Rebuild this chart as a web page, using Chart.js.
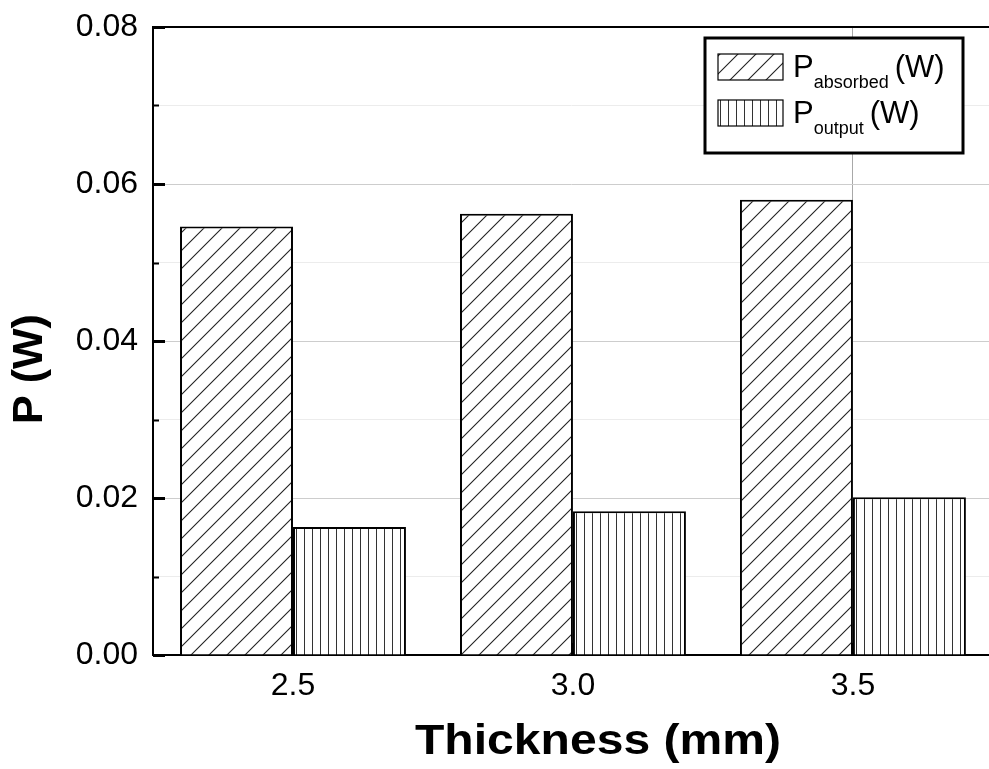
<!DOCTYPE html>
<html>
<head>
<meta charset="utf-8">
<script src="https://cdn.jsdelivr.net/npm/chart.js@4.4.1/dist/chart.umd.min.js"></script>
<style>
  html, body { margin: 0; padding: 0; background: #fff; }
  #wrap { width: 989px; height: 769px; }
</style>
</head>
<body>
<div id="wrap"><canvas id="c" width="989" height="769"></canvas></div>
<script>
// ---- data ----
const categories = [2.5, 3.0, 3.5];            // Thickness (mm)
const absorbed   = [0.0546, 0.0562, 0.0580];   // P_absorbed (W)
const output     = [0.0163, 0.0183, 0.0201];   // P_output (W)
const yMajorTicks = [0, 0.02, 0.04, 0.06, 0.08];
const yMinorTicks = [0.01, 0.03, 0.05, 0.07];
const xGridAt = [3.5];
const xTitle = 'Thickness (mm)';
const yTitle = 'P (W)';
const legendItems = [
  { main: 'P', sub: 'absorbed', unit: '(W)' },
  { main: 'P', sub: 'output', unit: '(W)' }
];

const FONT = '"Liberation Sans", Arial, Helvetica, sans-serif';

// ---- hatch patterns ----
function diagPattern() {
  const s = 18, cv = document.createElement('canvas');
  cv.width = s; cv.height = s;
  const g = cv.getContext('2d');
  g.fillStyle = '#fff'; g.fillRect(0, 0, s, s);
  g.strokeStyle = '#222'; g.lineWidth = 1.1;
  g.beginPath();
  g.moveTo(-2, s + 2); g.lineTo(s + 2, -2);
  g.moveTo(-2, 2); g.lineTo(2, -2);
  g.moveTo(s - 2, s + 2); g.lineTo(s + 2, s - 2);
  g.stroke();
  return g.createPattern(cv, 'repeat');
}
function vertPattern() {
  const w = 8, cv = document.createElement('canvas');
  cv.width = w; cv.height = 4;
  const g = cv.getContext('2d');
  g.fillStyle = '#fff'; g.fillRect(0, 0, w, 4);
  g.fillStyle = '#333'; g.fillRect(0, 0, 1, 4);
  return g.createPattern(cv, 'repeat');
}
const patAbs = diagPattern();
const patOut = vertPattern();

const isMinor = v => yMinorTicks.some(m => Math.abs(m - v) < 1e-9);
const isMajor = v => yMajorTicks.some(m => Math.abs(m - v) < 1e-9);

// ---- decorations plugin: frame, inward ticks, legend, titles ----
const deco = {
  id: 'deco',
  afterDatasetsDraw(chart) {
    const { ctx, chartArea: a, scales } = chart;
    const ys = scales.y, xs = scales.x;
    ctx.save();
    // top frame line
    ctx.strokeStyle = '#000'; ctx.lineWidth = 2;
    ctx.beginPath(); ctx.moveTo(a.left - 1, a.top); ctx.lineTo(a.right + 2, a.top); ctx.stroke();
    // inward y ticks
    [...yMajorTicks, ...yMinorTicks].forEach(v => {
      const py = Math.round(ys.getPixelForValue(v)) + 0.5;
      const len = isMajor(v) ? 12 : 6;
      ctx.lineWidth = isMajor(v) ? 3 : 2;
      ctx.beginPath(); ctx.moveTo(a.left, py); ctx.lineTo(a.left + len, py); ctx.stroke();
    });
    // inward x ticks
    ctx.lineWidth = 2;
    categories.forEach(v => {
      const px = Math.round(xs.getPixelForValue(v));
      ctx.beginPath(); ctx.moveTo(px, a.bottom); ctx.lineTo(px, a.bottom - 12); ctx.stroke();
    });

    // legend
    const L = { x: 705, y: 38, w: 258, h: 115 };
    ctx.fillStyle = '#fff';
    ctx.fillRect(L.x, L.y, L.w, L.h);
    ctx.lineWidth = 3; ctx.strokeStyle = '#000';
    ctx.strokeRect(L.x, L.y, L.w, L.h);
    const pats = [patAbs, patOut];
    const rowsY = [54, 100];
    legendItems.forEach((it, i) => {
      const sy = rowsY[i];
      ctx.fillStyle = pats[i];
      ctx.fillRect(718, sy, 65, 26);
      ctx.lineWidth = 1.2; ctx.strokeStyle = '#000';
      ctx.strokeRect(718, sy, 65, 26);
      const base = sy + 23;
      ctx.fillStyle = '#000';
      ctx.textBaseline = 'alphabetic'; ctx.textAlign = 'left';
      let x = 793;
      ctx.font = '31px ' + FONT;
      ctx.fillText(it.main, x, base);
      x += ctx.measureText(it.main).width;
      ctx.font = '18px ' + FONT;
      ctx.fillText(it.sub, x, base + 11);
      x += ctx.measureText(it.sub).width + 6;
      ctx.font = '31px ' + FONT;
      ctx.fillText(it.unit, x, base);
    });

    // x title
    ctx.fillStyle = '#000';
    ctx.font = 'bold 42px ' + FONT;
    ctx.textAlign = 'center'; ctx.textBaseline = 'middle';
    const tw = ctx.measureText(xTitle).width;
    ctx.save();
    ctx.translate(598, 742);
    ctx.scale(366 / tw, 1);
    ctx.fillText(xTitle, 0, 0);
    ctx.restore();

    // y title
    ctx.save();
    ctx.font = 'bold 43px ' + FONT;
    ctx.translate(30, 369);
    ctx.rotate(-Math.PI / 2);
    ctx.textAlign = 'center'; ctx.textBaseline = 'middle';
    ctx.fillText(yTitle, 0, 0);
    ctx.restore();

    ctx.restore();
  }
};

new Chart(document.getElementById('c'), {
  type: 'bar',
  data: {
    datasets: [
      {
        label: 'P absorbed (W)',
        data: categories.map((c, i) => ({ x: c, y: absorbed[i] })),
        backgroundColor: patAbs,
        borderColor: '#000',
        borderWidth: 2,
        barPercentage: 1.0,
        categoryPercentage: 0.807
      },
      {
        label: 'P output (W)',
        data: categories.map((c, i) => ({ x: c, y: output[i] })),
        backgroundColor: patOut,
        borderColor: '#000',
        borderWidth: 2,
        barPercentage: 1.0,
        categoryPercentage: 0.807
      }
    ]
  },
  options: {
    responsive: false,
    animation: false,
    layout: { padding: { top: 27, right: 0, left: 0, bottom: 0 } },
    plugins: { legend: { display: false }, tooltip: { enabled: false } },
    scales: {
      x: {
        type: 'linear',
        offset: false,
        min: 2.25,
        max: 3.743,
        afterBuildTicks: s => { s.ticks = categories.map(v => ({ value: v })); },
        afterFit: s => { s.height = 114; s.paddingLeft = 0; s.paddingRight = 0; },
        ticks: {
          callback: v => Number(v).toFixed(1),
          font: { family: FONT, size: 32 },
          color: '#000',
          padding: 12,
          autoSkip: false,
          maxRotation: 0
        },
        grid: {
          offset: false, lineWidth: 1, drawTicks: false,
          color: ctx => (ctx.tick && xGridAt.some(g => Math.abs(g - ctx.tick.value) < 1e-9)) ? '#a8a8a8' : 'rgba(0,0,0,0)'
        },
        border: { color: '#000', width: 2 }
      },
      y: {
        type: 'linear',
        min: 0,
        max: 0.08,
        afterBuildTicks: s => {
          s.ticks = [...yMajorTicks, ...yMinorTicks].sort((a, b) => a - b).map(v => ({ value: v }));
        },
        afterFit: s => { s.width = 153; s.paddingTop = 0; s.paddingBottom = 0; },
        ticks: {
          callback: v => isMajor(v) ? Number(v).toFixed(2) : '',
          font: { family: FONT, size: 32 },
          color: '#000',
          padding: 15,
          autoSkip: false
        },
        grid: {
          drawTicks: false,
          lineWidth: 1,
          color: ctx => {
            const v = ctx.tick ? ctx.tick.value : 0;
            if (v <= 1e-9 || v >= 0.08 - 1e-9) return 'rgba(0,0,0,0)';
            return isMinor(v) ? '#ececec' : '#cdcdcd';
          }
        },
        border: { color: '#000', width: 2 }
      }
    }
  },
  plugins: [deco]
});
</script>
</body>
</html>
